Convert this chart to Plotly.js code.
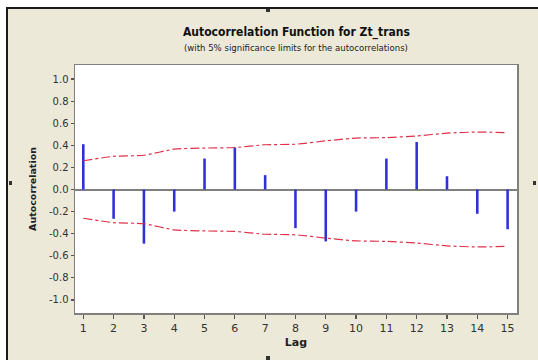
<!DOCTYPE html>
<html>
<head>
<meta charset="utf-8">
<script src="https://cdn.plot.ly/plotly-3.0.1.min.js"></script>
<style>
  html, body { margin:0; padding:0; background:#ffffff; width:538px; height:360px; overflow:hidden; }
  #frame { position:absolute; left:6px; top:7px; width:532px; height:353px; background:#ECE9D8;
           border-left:2px solid #1a1a1a; border-top:2px solid #1a1a1a; box-sizing:border-box; }
  #chart { position:absolute; left:8px; top:9px; width:530px; height:351px; }
  .h { position:absolute; width:4px; height:4px; background:#333; }
</style>
</head>
<body>
<div id="frame"></div>
<div id="chart"></div>
<div class="h" style="left:266px; top:9px; height:3px;"></div>
<div class="h" style="left:266px; top:356px;"></div>
<div class="h" style="left:9px; top:181px; width:3px;"></div>
<div class="h" style="left:533px; top:181px; width:3px;"></div>
<script>
const lags = [1,2,3,4,5,6,7,8,9,10,11,12,13,14,15];
const acf = [0.41,-0.265,-0.49,-0.20,0.28,0.38,0.13,-0.35,-0.47,-0.20,0.28,0.43,0.12,-0.22,-0.36];
const upperLimit = [0.26,0.30,0.31,0.365,0.375,0.38,0.405,0.41,0.44,0.465,0.47,0.485,0.51,0.52,0.515];
const lowerLimit = upperLimit.map(v => -v);
const yTickVals = [-1.0,-0.8,-0.6,-0.4,-0.2,0.0,0.2,0.4,0.6,0.8,1.0];
const yTickText = ["-1.0","-0.8","-0.6","-0.4","-0.2","0.0","0.2","0.4","0.6","0.8","1.0"];

const blue = '#3030D8';
const red = '#E0304A';

const traces = [
  { type:'bar', x:lags, y:acf, width:0.085, marker:{color:blue, line:{width:0}}, hoverinfo:'x+y' },
  { type:'scatter', mode:'lines', x:lags, y:upperLimit, line:{color:red, width:1.2, dash:'dashdot', shape:'spline', smoothing:0.6} },
  { type:'scatter', mode:'lines', x:lags, y:lowerLimit, line:{color:red, width:1.2, dash:'dashdot', shape:'spline', smoothing:0.6} }
];

const layout = {
  width:530, height:351,
  margin:{l:67, r:21, t:56, b:47},
  paper_bgcolor:'rgba(0,0,0,0)',
  plot_bgcolor:'#ffffff',
  showlegend:false,
  font:{family:'DejaVu Sans, sans-serif', color:'#333333'},
  xaxis:{
    range:[0.726, 15.31], tickvals:lags, ticktext:lags.map(String),
    ticks:'outside', ticklen:4, tickwidth:1.2, tickcolor:'#555',
    showline:true, mirror:true, linecolor:'#808080', linewidth:1.5,
    showgrid:false, zeroline:false,
    tickfont:{size:11, color:'#333333'},
    title:{text:'<b>Lag</b>', font:{size:11, color:'#222222'}, standoff:4}
  },
  yaxis:{
    range:[-1.118, 1.127], tickvals:yTickVals, ticktext:yTickText,
    ticks:'outside', ticklen:3, tickwidth:1.2, tickcolor:'#555',
    showline:true, mirror:true, linecolor:'#808080', linewidth:1.5,
    showgrid:false, zeroline:true, zerolinecolor:'#808080', zerolinewidth:2,
    tickfont:{size:10, color:'#333333'},
    title:{text:'<b>Autocorrelation</b>', font:{size:9.5, color:'#222222'}, standoff:10}
  },
  annotations:[
    { text:'<b>Autocorrelation Function for Zt_trans</b>', xref:'paper', yref:'paper', x:0.5, y:1+33/248,
      xanchor:'center', yanchor:'middle', showarrow:false, font:{size:12, color:'#111111', family:'DejaVu Sans Condensed, DejaVu Sans, sans-serif'} },
    { text:'(with 5% significance limits for the autocorrelations)', xref:'paper', yref:'paper', x:0.5, y:1+17/248,
      xanchor:'center', yanchor:'middle', showarrow:false, font:{size:9.5, color:'#222222', family:'DejaVu Sans Condensed, DejaVu Sans, sans-serif'} }
  ]
};

Plotly.newPlot('chart', traces, layout, {displayModeBar:false, staticPlot:true});
</script>
</body>
</html>
